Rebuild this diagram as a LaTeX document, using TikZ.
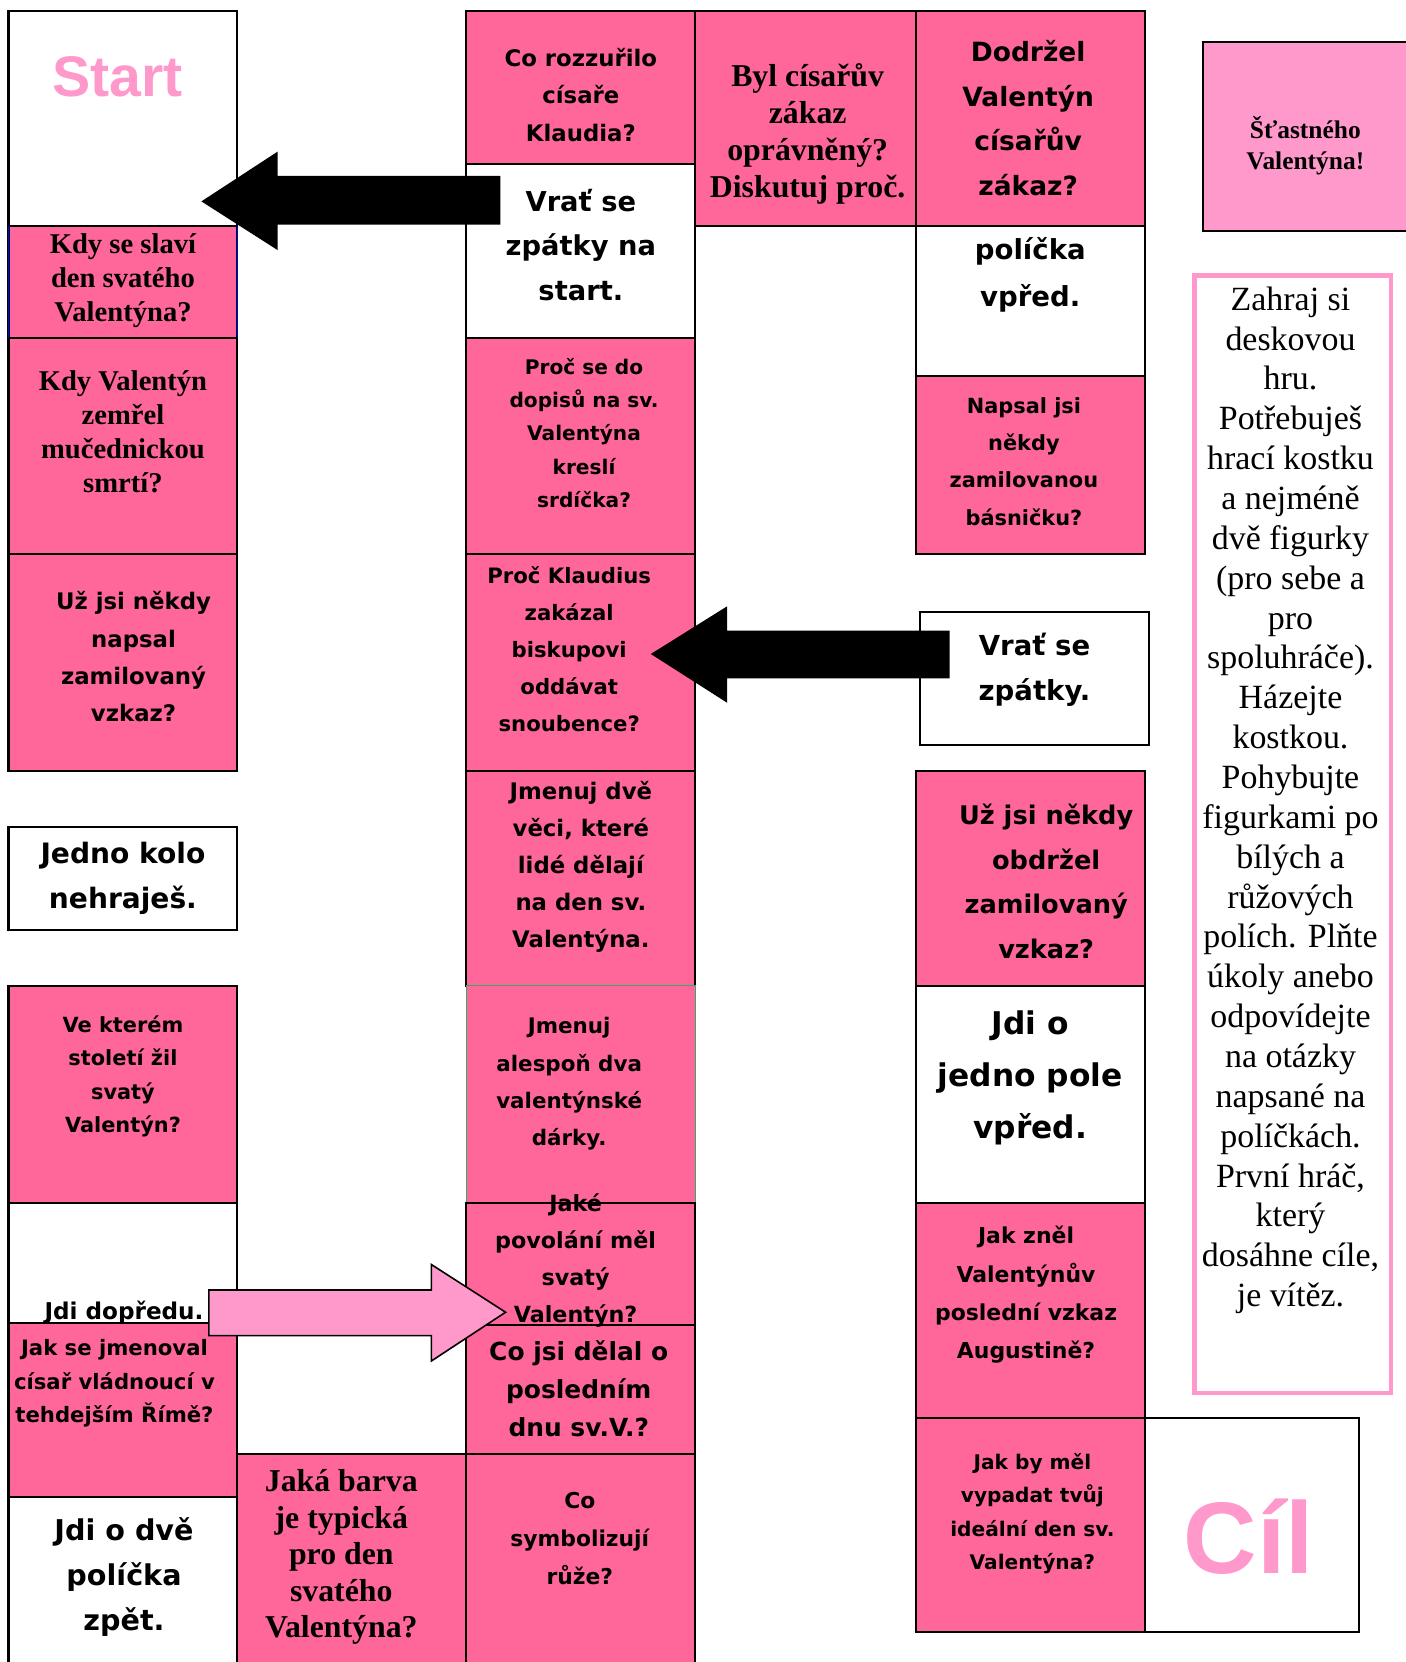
\documentclass[tikz,border=0pt]{standalone}
\usepackage{fontspec}
\setmainfont{Liberation Serif}
\newfontfamily\comicfont{DejaVu Sans}
\newfontfamily\signfont{Liberation Sans}
\usetikzlibrary{positioning}
\definecolor{cellpink}{HTML}{FF6699}
\definecolor{lightpink}{HTML}{FF99CC}
\definecolor{cellgreen}{HTML}{33AA66}
\def\qsize#1#2{\fontsize{#1pt}{#2pt}\selectfont}

\begin{document}
\begin{tikzpicture}[x=1pt,y=-1pt,line width=2pt,
    cell/.style={draw=black,inner sep=0pt,outer sep=0pt,minimum width=216pt},
    pinkcell/.style={cell,fill=cellpink},
    whitecell/.style={cell,fill=white},
    comic/.style 2 args={font=\comicfont\bfseries\qsize{#1}{#2},align=center,inner sep=0pt},
    serif/.style 2 args={font=\bfseries\qsize{#1}{#2},align=center,inner sep=0pt},
    sign/.style={font=\signfont\bfseries\qsize{#1}{#1},text=lightpink,inner sep=0pt}]

    \useasboundingbox (0,0) rectangle (1326,1568);

    % first column
    \begin{scope}[node distance=0pt]
        \node[whitecell,minimum height=203pt,anchor=north west] (start) at (8,10) {};
        \node[pinkcell,minimum height=106pt,below=of start] (kdy) {};
        \node[pinkcell,minimum height=204pt,below=of kdy] (zemrel) {};
        \node[pinkcell,minimum height=204pt,below=of zemrel] (napsal) {};
        \node[whitecell,minimum height=97pt,below=53pt of napsal] (kolo) {};
        \node[pinkcell,minimum height=205pt,below=53pt of kolo] (stoleti) {};
        \node[whitecell,minimum height=113pt,below=of stoleti] (dopredu) {};
        \node[pinkcell,minimum height=164pt,below=of dopredu] (cisar) {};
        \node[whitecell,minimum height=204pt,below=of cisar] (zpet) {};
        \draw[blue,line width=1pt] (kdy.north west) -- (kdy.south west) (kdy.north east) -- (kdy.south east);
    \end{scope}

    % second column
    \begin{scope}[node distance=0pt]
        \node[pinkcell,minimum height=145pt,anchor=north west] (rozzurilo) at (440,10) {};
        \node[whitecell,minimum height=164pt,below=of rozzurilo] (navrat) {};
        \node[pinkcell,minimum height=204pt,below=of navrat] (dopisy) {};
        \node[pinkcell,minimum height=204pt,below=of dopisy] (zakaz) {};
        \node[pinkcell,minimum height=203pt,below=of zakaz] (veci) {};
        \node[pinkcell,draw=cellgreen,line width=1pt,minimum height=205pt,below=of veci] (darky) {};
        \node[pinkcell,minimum height=115pt,below=of darky] (povolani) {};
        \node[pinkcell,minimum height=122pt,below=of povolani] (posledni) {};
        \node[pinkcell,minimum height=204pt,below=of posledni] (ruze) {};
        \node[pinkcell,minimum height=204pt,left=of ruze] (barva) {};
    \end{scope}

    % third and fourth column
    \begin{scope}[node distance=0pt]
        \node[pinkcell,minimum width=208pt,minimum height=203pt,anchor=north west] (opravneny) at (656,10) {};
        \node[pinkcell,minimum height=203pt,right=of opravneny] (dodrzel) {};
        \node[whitecell,minimum height=145pt,below=of dodrzel] (vpred) {};
        \node[pinkcell,minimum height=168pt,below=-3pt of vpred] (basnicka) {};
        \node[whitecell,minimum height=126pt,anchor=north west] (zpatky) at (868,577) {};
        \node[pinkcell,minimum height=203pt,anchor=north west] (obdrzel) at (864,727) {};
        \node[whitecell,minimum height=205pt,below=of obdrzel] (jedno) {};
        \node[pinkcell,minimum height=203pt,below=of jedno] (znel) {};
        \node[pinkcell,minimum height=202pt,below=of znel] (idealni) {};
        \node[whitecell,minimum width=202pt,minimum height=202pt,right=of idealni] (cil) {};
    \end{scope}

    \node[cell,fill=lightpink,minimum width=200pt,minimum height=178pt,anchor=north west] (prani) at (1135,40) {};
    \node[draw=lightpink,line width=4pt,fill=white,minimum width=185pt,minimum height=1054pt,anchor=north west] (pravidla) at (1125,258) {};

    % arrows
    \fill (472,166) -- (262,166) -- (262,143) -- (190,190) -- (262,236) -- (262,212) -- (472,212) -- cycle;
    \fill (896,595) -- (686,595) -- (686,572) -- (614,617) -- (686,663) -- (686,640) -- (896,640) -- cycle;
    \draw[fill=lightpink,line width=1.5pt] (197,1217) -- (407,1217) -- (407,1193) -- (477,1238) -- (407,1284) -- (407,1260) -- (197,1260) -- cycle;

    % texts
    \node[sign=54] (tstart) at ([shift={(-5,-39.5)}]start.center) {Start};
    \node[serif={27}{32}] (tkdy) at ([shift={(0,-1)}]kdy.center) {Kdy se slaví\\den svatého\\Valentýna?};
    \node[serif={27}{32}] (tzemrel) at ([shift={(0,-14)}]zemrel.center) {Kdy Valentýn\\zemřel\\mučednickou\\smrtí?};
    \node[comic={21.5}{35}] (tnapsal) at ([shift={(10,-5.5)}]napsal.center) {Už jsi někdy\\napsal\\zamilovaný\\vzkaz?};
    \node[comic={26.5}{43}] (tkolo) at (kolo.center) {Jedno kolo\\nehraješ.};
    \node[comic={19.7}{31.5}] (tstoleti) at ([shift={(0,-17)}]stoleti.center) {Ve kterém\\století žil\\svatý\\Valentýn?};
    \node[comic={21.8}{35}] (tdopredu) at ([shift={(1,46.5)}]dopredu.center) {Jdi dopředu.};
    \node[comic={20}{31.5}] (tcisar) at ([shift={(-8,-25)}]cisar.center) {Jak se jmenoval\\císař vládnoucí v\\tehdejším Římě?};
    \node[comic={27}{42.5}] (tzpet) at ([shift={(1,-26)}]zpet.center) {Jdi o dvě\\políčka\\zpět.};
    \node[serif={30}{34.5}] (tbarva) at ([shift={(-10,-5)}]barva.center) {Jaká barva\\je typická\\pro den\\svatého\\Valentýna?};

    \node[comic={21.5}{35.5}] (trozzurilo) at ([shift={(0,7)}]rozzurilo.center) {Co rozzuřilo\\císaře\\Klaudia?};
    \node[comic={25.8}{42}] (tnavrat) at ([shift={(0,-6)}]navrat.center) {Vrať se\\zpátky na\\start.};
    \node[comic={19}{31.3}] (tdopisy) at ([shift={(3,-12.5)}]dopisy.center) {Proč se do\\dopisů na sv.\\Valentýna\\kreslí\\srdíčka?};
    \node[comic={20}{35}] (tzakaz) at ([shift={(-11,-12.5)}]zakaz.center) {Proč Klaudius\\zakázal\\biskupovi\\oddávat\\snoubence?};
    \node[comic={21.5}{35}] (tveci) at ([shift={(0,-10.5)}]veci.center) {Jmenuj dvě\\věci, které\\lidé dělají\\na den sv.\\Valentýna.};
    \node[comic={20.2}{35}] (tdarky) at ([shift={(-11,-10)}]darky.center) {Jmenuj\\alespoň dva\\valentýnské\\dárky.};
    \node[comic={21}{35}] (tpovolani) at ([shift={(-5,-3.5)}]povolani.center) {Jaké\\povolání měl\\svatý\\Valentýn?};
    \node[comic={23.5}{36}] (tposledni) at ([shift={(-2,-1)}]posledni.center) {Co jsi dělal o\\posledním\\dnu sv.V.?};
    \node[comic={20.6}{35.5}] (truze) at ([shift={(-1,-22.5)}]ruze.center) {Co\\symbolizují\\růže?};

    \node[serif={30}{35}] (topravneny) at ([shift={(2,15)}]opravneny.center) {Byl císařův\\zákaz\\oprávněný?\\Diskutuj proč.};
    \node[comic={25}{42}] (tdodrzel) at ([shift={(-2,0)}]dodrzel.center) {Dodržel\\Valentýn\\císařův\\zákaz?};
    \node[comic={26}{44}] (tvpred) at ([shift={(0,-26.5)}]vpred.center) {políčka\\vpřed.};
    \node[comic={19.7}{35}] (tbasnicka) at ([shift={(-6,-3.5)}]basnicka.center) {Napsal jsi\\někdy\\zamilovanou\\básničku?};
    \node[comic={26}{42}] (tzpatky) at ([shift={(0,-8)}]zpatky.center) {Vrať se\\zpátky.};
    \node[comic={24.2}{42}] (tobdrzel) at ([shift={(15,3)}]obdrzel.center) {Už jsi někdy\\obdržel\\zamilovaný\\vzkaz?};
    \node[comic={29.5}{49}] (tjedno) at ([shift={(0,-15.5)}]jedno.center) {Jdi o\\jedno pole\\vpřed.};
    \node[comic={20.7}{36}] (tznel) at ([shift={(-4,-15)}]znel.center) {Jak zněl\\Valentýnův\\poslední vzkaz\\Augustině?};
    \node[comic={19}{31.5}] (tidealni) at ([shift={(2,-11)}]idealni.center) {Jak by měl\\vypadat tvůj\\ideální den sv.\\Valentýna?};
    \node[sign=96] (tcil) at ([shift={(-3,11)}]cil.center) {Cíl};

    \node[serif={24}{29}] (tprani) at ([shift={(-3.5,8.5)}]prani.center) {Šťastného\\Valentýna!};
    \node[font=\qsize{32}{37.6},align=center,inner sep=0pt] (tpravidla) at ([shift={(-2,-32)}]pravidla.center)
        {Zahraj si\\deskovou\\hru.\\Potřebuješ\\hrací kostku\\a nejméně\\dvě figurky\\(pro sebe a\\pro\\spoluhráče).\\Házejte\\kostkou.\\Pohybujte\\figurkami po\\bílých a\\růžových\\polích. Plňte\\úkoly anebo\\odpovídejte\\na otázky\\napsané na\\políčkách.\\První hráč,\\který\\dosáhne cíle,\\je vítěz.};

\end{tikzpicture}
\end{document}
